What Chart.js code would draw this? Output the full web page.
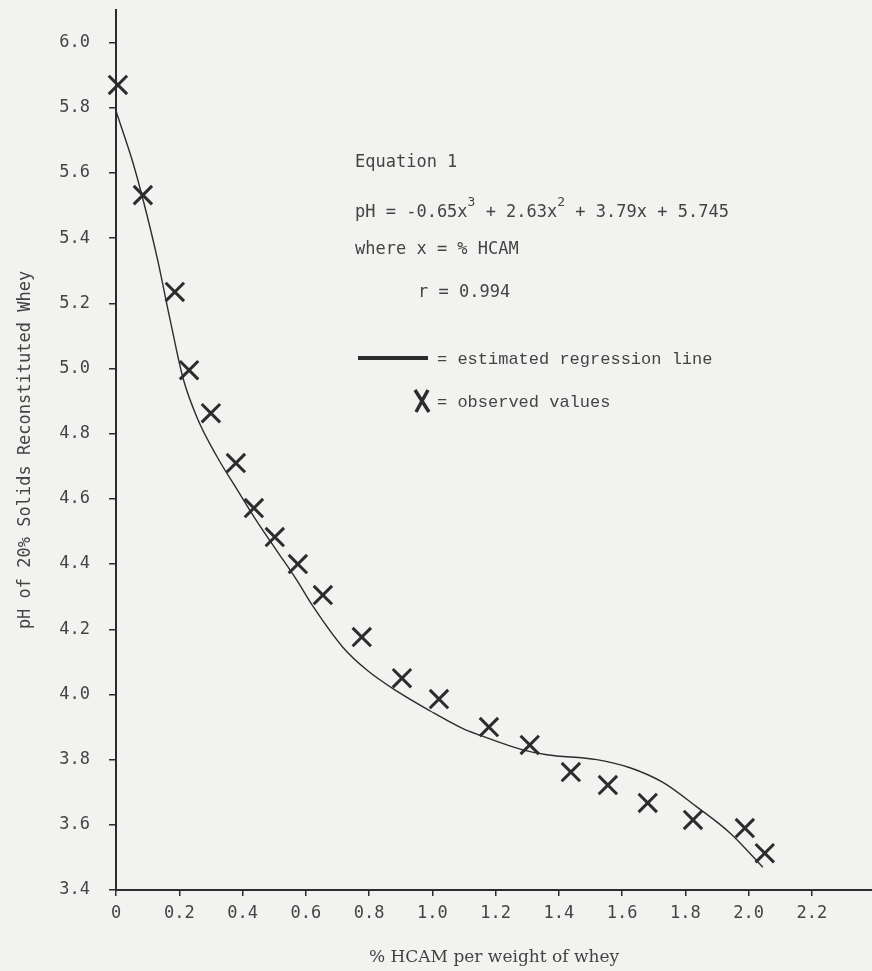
<!DOCTYPE html>
<html>
<head>
<meta charset="utf-8">
<script src="https://cdn.jsdelivr.net/npm/chart.js@4.4.0/dist/chart.umd.min.js"></script>
<style>
  html, body { margin: 0; padding: 0; background: #f2f2f0; }
  #wrap { width: 872px; height: 971px; position: relative; }
</style>
</head>
<body>
<div id="wrap"><canvas id="phChart"></canvas></div>
<script>
// observed values (x = % HCAM, pH)
const obsX = [0.006, 0.085, 0.186, 0.231, 0.300, 0.379, 0.436, 0.502, 0.575, 0.654, 0.777,
              0.904, 1.021, 1.179, 1.308, 1.438, 1.555, 1.681, 1.824, 1.988, 2.051];
const obsPH = [5.870, 5.532, 5.235, 4.995, 4.863, 4.710, 4.572, 4.483, 4.400, 4.305, 4.176,
               4.050, 3.986, 3.900, 3.845, 3.762, 3.722, 3.667, 3.615, 3.590, 3.513];

// estimated regression line
const fitX = [0, 0.054, 0.085, 0.130, 0.171, 0.212, 0.256, 0.319, 0.382, 0.446, 0.509, 0.572,
              0.623, 0.717, 0.793, 0.888, 0.992, 1.097, 1.150, 1.286, 1.362, 1.520, 1.625,
              1.729, 1.836, 1.941, 2.045];
const fitPH = [5.79, 5.63, 5.52, 5.34, 5.15, 4.97, 4.85, 4.73, 4.63, 4.53, 4.44, 4.35,
               4.27, 4.145, 4.075, 4.01, 3.95, 3.895, 3.875, 3.83, 3.815, 3.80, 3.775,
               3.73, 3.655, 3.575, 3.47];

const xTicks = [0, 0.2, 0.4, 0.6, 0.8, 1.0, 1.2, 1.4, 1.6, 1.8, 2.0, 2.2];
const yTicks = [3.4, 3.6, 3.8, 4.0, 4.2, 4.4, 4.6, 4.8, 5.0, 5.2, 5.4, 5.6, 5.8, 6.0];

const ink = '#2c2c2c';
const textInk = '#444';
const mono = '"DejaVu Sans Mono", monospace';

const toPoints = (xs, ys) => xs.map((x, i) => ({ x, y: ys[i] }));

// equation text and hand-made key inside the plot
const notesPlugin = {
  id: 'notes',
  afterDraw(chart) {
    const { ctx, chartArea } = chart;
    const L = chartArea.left, T = chartArea.top;
    ctx.save();
    ctx.fillStyle = textInk;
    ctx.textBaseline = 'middle';
    ctx.textAlign = 'left';
    ctx.font = '17px ' + mono;
    ctx.fillText('Equation 1', L + 239, T + 153);

    // pH = -0.65x^3 + 2.63x^2 + 3.79x + 5.745
    const parts = [['pH = -0.65x', false], ['3', true], [' + 2.63x', false], ['2', true], [' + 3.79x + 5.745', false]];
    let cx = L + 239;
    const ey = T + 203;
    parts.forEach(([t, sup]) => {
      ctx.font = (sup ? '13px ' : '17px ') + mono;
      ctx.fillText(t, cx, sup ? ey - 10 : ey);
      cx += ctx.measureText(t).width;
    });

    ctx.font = '17px ' + mono;
    ctx.fillText('where x = % HCAM', L + 239, T + 240);
    ctx.fillText('r = 0.994', L + 302, T + 283);

    // key: regression line
    ctx.strokeStyle = ink;
    ctx.lineWidth = 4;
    ctx.beginPath();
    ctx.moveTo(L + 242, T + 348);
    ctx.lineTo(L + 312, T + 348);
    ctx.stroke();
    ctx.font = '17px "Liberation Mono", monospace';
    ctx.fillText('= estimated regression line', L + 321, T + 349);

    // key: observed values
    const mx = L + 306, my = T + 391;
    ctx.lineWidth = 3.5;
    ctx.beginPath();
    ctx.moveTo(mx - 7, my - 11); ctx.lineTo(mx + 7, my + 11);
    ctx.moveTo(mx + 6, my - 11); ctx.lineTo(mx - 6, my + 11);
    ctx.stroke();
    ctx.fillText('= observed values', L + 321, T + 392);
    ctx.restore();
  }
};

new Chart(document.getElementById('phChart'), {
  type: 'scatter',
  data: {
    datasets: [
      {
        label: 'estimated regression line',
        data: toPoints(fitX, fitPH),
        showLine: true,
        borderColor: ink,
        borderWidth: 1.4,
        pointRadius: 0,
        cubicInterpolationMode: 'monotone',
        clip: false,
        order: 2
      },
      {
        label: 'observed values',
        data: toPoints(obsX, obsPH),
        pointStyle: 'crossRot',
        pointRadius: 13,
        borderColor: ink,
        borderWidth: 3,
        clip: false,
        order: 1
      }
    ]
  },
  options: {
    responsive: true,
    maintainAspectRatio: false,
    animation: false,
    layout: { autoPadding: false, padding: { top: 10, right: 0, bottom: 0, left: 0 } },
    plugins: { legend: { display: false }, tooltip: { enabled: false } },
    scales: {
      x: {
        type: 'linear',
        min: 0,
        max: 2.39,
        afterBuildTicks: s => { s.ticks = xTicks.map(v => ({ value: v })); },
        afterFit: s => { s.height = 81; s.paddingLeft = 0; s.paddingRight = 0; },
        border: { color: ink, width: 2 },
        grid: { drawOnChartArea: false, drawTicks: true, tickLength: 6, color: ink, lineWidth: 1.5 },
        ticks: {
          padding: 7,
          color: textInk,
          font: { family: mono, size: 17 },
          callback: v => (v === 0 ? '0' : v.toFixed(1))
        },
        title: {
          display: true,
          text: '% HCAM per weight of whey',
          color: textInk,
          font: { family: '"DejaVu Serif", serif', size: 17 },
          padding: { top: 0, bottom: 3 }
        }
      },
      y: {
        type: 'linear',
        min: 3.4,
        max: 6.1,
        afterBuildTicks: s => { s.ticks = yTicks.map(v => ({ value: v })); },
        afterFit: s => { s.width = 116; s.paddingTop = 0; s.paddingBottom = 0; },
        border: { color: ink, width: 2 },
        grid: { drawOnChartArea: false, drawTicks: true, tickLength: 7, color: ink, lineWidth: 1.5 },
        ticks: {
          padding: 19,
          color: textInk,
          font: { family: mono, size: 17 },
          callback: v => v.toFixed(1)
        },
        title: {
          display: true,
          text: 'pH of 20% Solids Reconstituted Whey',
          color: textInk,
          font: { family: mono, size: 17 },
          padding: { top: 15, bottom: 0 }
        }
      }
    }
  },
  plugins: [notesPlugin]
});
</script>
</body>
</html>
